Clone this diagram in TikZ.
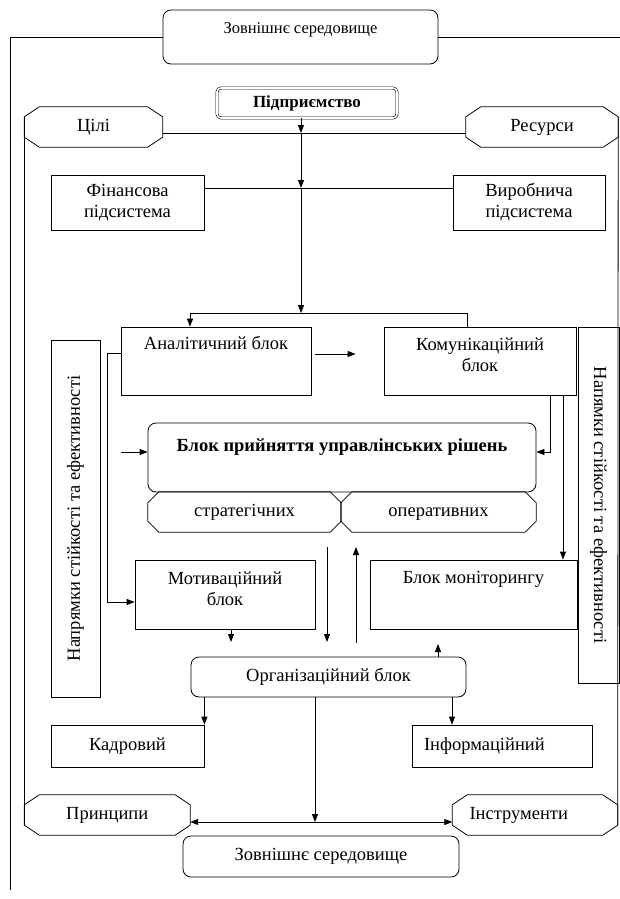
\documentclass[tikz,border=0pt]{standalone}
\usepackage{fontspec}
\setmainfont{Liberation Serif}
\usetikzlibrary{arrows.meta,calc}

\tikzset{
    box/.style={draw, rectangle, line width=0.8pt, inner sep=2pt, align=center},
    roundbox/.style={box, rounded corners=8pt},
    octbox/.style={rectangle, inner sep=2pt, align=center, text height=13pt, text depth=4pt},
    raised/.style={text height=13pt, text depth=#1},
    arr/.style={-{Triangle[length=8pt,width=6pt]}, line width=0.8pt},
    ln/.style={line width=0.8pt}
}
% octagon outline round a named node: node, chamfer x, chamfer y
\newcommand{\octframe}[3]{%
    \draw[ln] ($(#1.north west)+(#2,0)$) -- ($(#1.north east)+(-#2,0)$) -- ($(#1.north east)+(0,#3)$)
        -- ($(#1.south east)+(0,-#3)$) -- ($(#1.south east)+(-#2,0)$) -- ($(#1.south west)+(#2,0)$)
        -- ($(#1.south west)+(0,-#3)$) -- ($(#1.north west)+(0,#3)$) -- cycle;}

\begin{document}
\begin{tikzpicture}[x=1pt, y=-1pt, font=\fontsize{18.5}{21}\selectfont]
    \useasboundingbox (0,0) rectangle (620,899);

    % environment and enterprise
    \node [roundbox, minimum width=275pt, minimum height=54pt, text height=11.5pt, text depth=19pt,
        font=\fontsize{16.5}{19}\selectfont] (topenv) at (300.5,37) {Зовнішнє середовище};
    \node [draw, double, double distance=1.6pt, line width=0.6pt, rounded corners=4pt,
        minimum width=180pt, minimum height=30pt, font=\fontsize{17}{19}\selectfont\bfseries] (firm) at (307,103) {Підприємство};
    \node [octbox, minimum width=138pt, minimum height=40pt] (goals) at (93.5,127) {Цілі};
    \node [octbox, minimum width=152pt, minimum height=40pt] (resources) at (542,127) {Ресурси};
    \octframe{goals}{15}{10}
    \octframe{resources}{15}{10}

    % subsystems
    \node [box, minimum width=153pt, minimum height=55pt] (fin) at (127.5,202.5) {Фінансова\\підсистема};
    \node [box, minimum width=152pt, minimum height=55pt] (prod) at (529,202.5) {Виробнича\\підсистема};

    % blocks
    \node [box, minimum width=190pt, minimum height=68pt, raised=36.8pt] (anal) at (216,361) {Аналітичний блок};
    \node [box, minimum width=192pt, minimum height=68pt, text depth=12pt] (comm) at (480,361) {Комунікаційний\\блок};
    \node [box, minimum width=357pt, minimum height=49pt, rotate=90] (leftdir) at (75.5,518.5) {Напрямки стійкості та ефективності};
    \node [box, minimum width=356pt, minimum height=41pt, rotate=-90] (rightdir) at (598.5,505) {Напямки стійкості та ефективності};
    \node [roundbox, minimum width=388pt, minimum height=69pt, raised=25.8pt,
        font=\fontsize{18.5}{21}\selectfont\bfseries] (decision) at (342,457.5) {Блок прийняття управлінських рішень};
    \node [octbox, minimum width=193pt, minimum height=40pt] (strat) at (244.5,512) {стратегічних};
    \node [octbox, minimum width=195pt, minimum height=40pt] (oper) at (438.5,512) {оперативних};
    \octframe{strat}{11}{11}
    \octframe{oper}{11}{11}
    \node [box, minimum width=180pt, minimum height=69pt, text depth=12pt] (motiv) at (225,594.5) {Мотиваційний\\блок};
    \node [box, minimum width=207pt, minimum height=69pt, raised=35.8pt] (monit) at (473.5,594.5) {Блок моніторингу};
    \node [roundbox, minimum width=275pt, minimum height=40pt] (org) at (328.5,677) {Організаційний блок};
    \node [box, minimum width=153pt, minimum height=42pt] (staff) at (127.5,746) {Кадровий};
    \node [box, text width=156pt, inner xsep=12pt, align=left, minimum height=42pt] (info) at (502,746) {Інформаційний};

    % principles, tools
    \node [octbox, minimum width=165.5pt, minimum height=40pt] (principles) at (107.25,815) {Принципи};
    \node [octbox, text width=131pt, inner xsep=17pt, align=left, minimum height=40pt] (tools) at (535,815) {Інструменти};
    \octframe{principles}{15}{10}
    \octframe{tools}{15}{10}
    \node [roundbox, minimum width=276pt, minimum height=41pt] (botenv) at (321,856.5) {Зовнішнє середовище};

    % frames
    \draw[ln] (topenv.east) -- (620,37);
    \draw[ln] (topenv.west) -- (10,37) -- (10,890);
    \draw[ln] ([yshift=-10pt]goals.north west) -- ([yshift=10pt]principles.south west);
    \draw[ln] ([yshift=-10pt]resources.north east) -- ([yshift=10pt]tools.south east);

    % spine
    \coordinate (j1) at (301,133);
    \coordinate (j2) at (301,188);
    \coordinate (j3) at (301,313);
    \coordinate (b1) at (190,313);
    \coordinate (b2) at (467,313);
    \draw[arr] (firm.south -| j1) -- (j1);
    \draw[arr] (j1) -- (j2);
    \draw[arr] (j2) -- (j3);
    \draw[ln] (goals.east |- j1) -- (resources.west |- j1);
    \draw[ln] (fin.east |- j2) -- (prod.west |- j2);
    \draw[arr] (comm.north -| b2) -- (b2) -- (b1) -- (anal.north -| b1);
    \draw[arr] ([xshift=4pt,yshift=7pt]anal.east) -- ([xshift=-28pt,yshift=7pt]comm.west);

    % into decisions
    \coordinate (c1) at (550,452);
    \coordinate (c2) at (563,560);
    \draw[arr] ([yshift=8pt]anal.west) -- ++(-13,0) |- ([yshift=-7.5pt]motiv.west);
    \draw[arr] ([xshift=-27pt,yshift=5.5pt]decision.west) -- ([yshift=5.5pt]decision.west);
    \draw[arr] (comm.south -| c1) -- (c1) -- (decision.east |- c1);
    \draw[arr] (comm.south -| c2) -- (monit.north -| c2);

    % middle
    \coordinate (m1) at (327,547);
    \coordinate (m2) at (327,642);
    \coordinate (m3) at (356,643);
    \coordinate (m4) at (356,547);
    \coordinate (s1) at (231,642);
    \coordinate (s2) at (438,644);
    \draw[arr] (m1) -- (m2);
    \draw[arr] (m3) -- (m4);
    \draw[arr] (motiv.south -| s1) -- (s1);
    \draw[arr] (org.north -| s2) -- (s2);

    % bottom
    \coordinate (s3) at (452,710);
    \coordinate (d1) at (315,822);
    \draw[arr] (org.south -| staff.north east) -- (staff.north east);
    \draw[arr] (org.south -| s3) -- (info.north -| s3);
    \draw[arr] (org.south -| d1) -- (d1);
    \draw[{Triangle[length=8pt,width=6pt]}-{Triangle[length=8pt,width=6pt]}, line width=0.8pt]
        (principles.east |- d1) -- (tools.west |- d1);
\end{tikzpicture}
\end{document}
